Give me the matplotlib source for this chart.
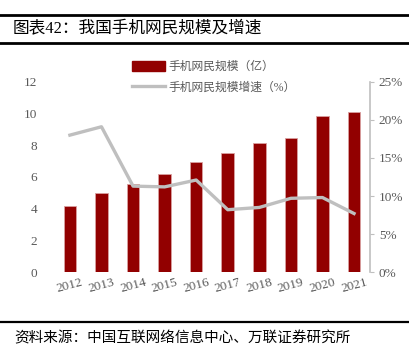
import matplotlib.pyplot as plt
from matplotlib.lines import Line2D

plt.rcParams['font.family'] = ['Liberation Serif', 'Noto Sans CJK SC']

years = ['2012', '2013', '2014', '2015', '2016', '2017', '2018', '2019', '2020', '2021']
users = [4.20, 5.00, 5.57, 6.20, 6.95, 7.53, 8.17, 8.47, 9.86, 10.07]
growth = [18.0, 19.1, 11.3, 11.2, 12.1, 8.2, 8.5, 9.7, 9.8, 7.7]

bar_color = '#920000'
line_color = '#BFBFBF'
text_color = '#595959'

fig = plt.figure(figsize=(4.1, 3.59), dpi=100)
ax = fig.add_axes([0.132, 0.242, 0.770, 0.530])
x = list(range(len(years)))
ax.bar(x, users, width=0.4, color=bar_color, edgecolor='#D9A0A0', linewidth=0.6,
       label='手机网民规模（亿）')
ax.set_ylim(0, 12)
ax.set_yticks([0, 2, 4, 6, 8, 10, 12])
ax.set_xlim(-0.5, 9.5)
ax.set_xticks(x)
ax.set_xticklabels(years, rotation=15, fontsize=9.5, color=text_color)
ax.tick_params(axis='y', length=0, labelsize=9.5, labelcolor=text_color, pad=12)
ax.tick_params(axis='x', length=0, pad=3)
for s in ax.spines.values():
    s.set_visible(False)

ax2 = ax.twinx()
ax2.plot(x, growth, color=line_color, linewidth=2.4)
ax2.set_ylim(0, 25)
ax2.set_yticks([0, 5, 10, 15, 20, 25])
ax2.set_yticklabels(['%d%%' % v for v in [0, 5, 10, 15, 20, 25]])
ax2.tick_params(axis='y', direction='out', length=3, color=line_color,
                labelsize=9.5, labelcolor=text_color)
for k in ['top', 'left', 'bottom']:
    ax2.spines[k].set_visible(False)
ax2.spines['right'].set_color(line_color)
ax2.spines['right'].set_linewidth(1.2)

handles = [plt.Rectangle((0, 0), 1, 1, color=bar_color),
           Line2D([0], [0], color=line_color, linewidth=2.4)]
labels = ['手机网民规模（亿）', '手机网民规模增速（%）']
leg = fig.legend(handles, labels, loc='upper left', bbox_to_anchor=(0.295, 0.86),
                 frameon=False, fontsize=8.5, labelcolor=text_color,
                 handlelength=2.8, handleheight=0.9, handletextpad=0.3, labelspacing=0.75)

# header and footer rules
fig.add_artist(Line2D([0.0, 1.0], [1 - 15 / 359, 1 - 15 / 359], color='black', linewidth=2))
fig.add_artist(Line2D([0.0, 1.0], [1 - 43 / 359, 1 - 43 / 359], color='black', linewidth=2))
fig.add_artist(Line2D([0.0, 1.0], [1 - 322 / 359, 1 - 322 / 359], color='black', linewidth=1.6))
fig.text(0.03, 1 - 29 / 359, '图表42：我国手机网民规模及增速', fontsize=12,
         va='center', ha='left', color='black')
fig.text(0.035, 1 - 338 / 359, '资料来源：中国互联网络信息中心、万联证券研究所', fontsize=10.5,
         va='center', ha='left', style='italic', color='black')

fig.savefig('out.png', dpi=100)
